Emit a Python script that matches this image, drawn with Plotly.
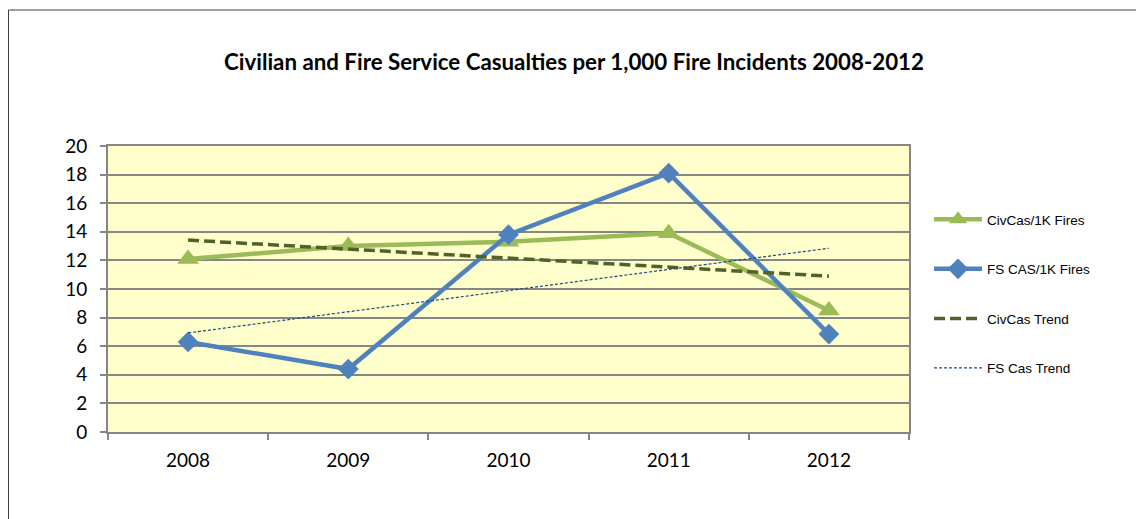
import numpy as np
import plotly.graph_objects as go

years = ["2008", "2009", "2010", "2011", "2012"]
civcas = [12.1, 13.0, 13.3, 13.9, 8.5]
fscas = [6.3, 4.4, 13.8, 18.1, 6.85]
y_ticks = [0, 2, 4, 6, 8, 10, 12, 14, 16, 18, 20]

idx = np.arange(len(years))
def trend(vals):
    m, b = np.polyfit(idx, vals, 1)
    return list(m * idx + b)

civ_trend = trend(civcas)
fs_trend = trend(fscas)

fig = go.Figure()
fig.add_trace(go.Scatter(x=years, y=civcas, name="CivCas/1K Fires", mode="lines+markers",
                         line=dict(color="#9BBB59", width=4.5),
                         marker=dict(symbol="triangle-up", size=19, color="#9BBB59"),
                         legendgroup="a"))
fig.add_trace(go.Scatter(x=years, y=fscas, name="FS CAS/1K Fires", mode="lines+markers",
                         line=dict(color="#4F81BD", width=4.5),
                         marker=dict(symbol="diamond", size=16, color="#4F81BD"),
                         legendgroup="b"))
fig.add_trace(go.Scatter(x=years, y=civ_trend, name="CivCas Trend", mode="lines",
                         line=dict(color="#4F6228", width=3.5, dash="11px,5px"),
                         legendgroup="c"))
fig.add_trace(go.Scatter(x=years, y=fs_trend, name="FS Cas Trend", mode="lines",
                         line=dict(color="#1F497D", width=1.2, dash="3px,2px"),
                         legendgroup="d"))

OFF = 8  # page body margin
L, R, T, B = 108 - OFF, 909 - OFF, 146 - OFF, 432 - OFF
W, H = 1144 - OFF, 519 - OFF
pw, ph = R - L, B - T

fig.update_layout(
    width=W, height=H,
    margin=dict(l=L, r=W - R, t=T, b=H - B, pad=0),
    paper_bgcolor="white",
    plot_bgcolor="#FFFFCC",
    title=dict(text="<b>Civilian and Fire Service Casualties per 1,000 Fire Incidents 2008-2012</b>",
               x=(574 - OFF) / W, xanchor="center", y=1 - (62 - OFF) / H, yanchor="middle",
               font=dict(family="Lato", size=22.3, color="black")),
    font=dict(family="Lato", size=19, color="black"),
    showlegend=True,
    legend=dict(x=1.025, xanchor="left", y=(B - (204 - OFF)) / ph, yanchor="top",
                font=dict(family="Liberation Sans", size=13.5, color="black"),
                tracegroupgap=29, itemwidth=48, bgcolor="rgba(0,0,0,0)"),
    xaxis=dict(type="category", range=[-0.5, 4.5], showgrid=False,
               showline=True, linecolor="#868686", linewidth=2, mirror=True,
               ticks="outside", tickson="boundaries", ticklen=6, tickcolor="#868686",
               tickwidth=1.5, tickfont=dict(family="Lato", size=19), fixedrange=True,
               ticklabelstandoff=10),
    yaxis=dict(range=[0, 20], tickvals=y_ticks, showgrid=True, gridcolor="#868686",
               gridwidth=1.5, showline=True, linecolor="#868686", linewidth=2, mirror=True,
               ticks="outside", ticklen=6, tickcolor="#868686", tickwidth=1.5,
               zeroline=False, tickfont=dict(family="Lato", size=19), ticklabelstandoff=9),
)

fig.add_shape(type="rect", xref="paper", yref="paper",
              x0=(0.5 - L) / pw, x1=(W + 20 - L) / pw,
              y0=(B - (H + 20)) / ph, y1=(B - (10 - OFF)) / ph,
              line=dict(color="#404040", width=1), fillcolor="rgba(0,0,0,0)", layer="below")

fig.write_html("out.html")
